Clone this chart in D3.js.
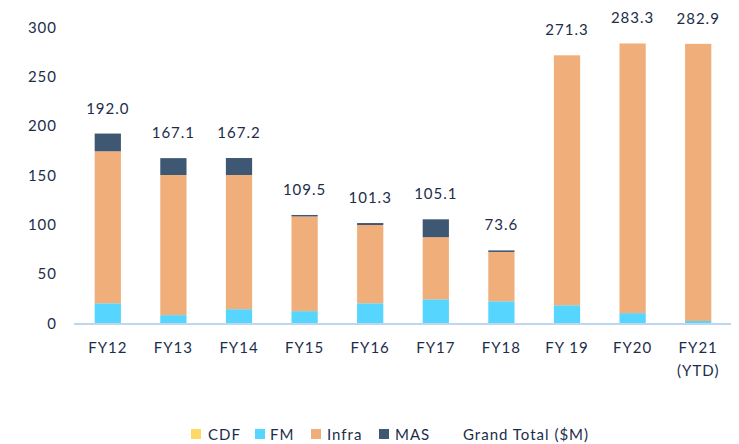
<!DOCTYPE html>
<html><head><meta charset="utf-8">
<script src="https://cdn.jsdelivr.net/npm/d3@7/dist/d3.min.js"></script>
<style>
body{margin:0;background:#fff;}
svg text{font-family:Lato,"Open Sans",sans-serif;fill:#1c2d4a;letter-spacing:1px;}
</style></head>
<body><svg id="c" width="739" height="444"></svg>
<script>
const categories = ["FY12","FY13","FY14","FY15","FY16","FY17","FY18","FY 19","FY20","FY21\n(YTD)"];
const cdf   = [0,0,0,0,0,0,0,0,0,0];
const fm    = [20,8,14,12,20,24,22,18,10,2];
const infra = [154,142,136,96,79.3,63,50,253.3,273.3,280.9];
const mas   = [18,17.1,17.2,1.5,2,18.1,1.6,0,0,0];
const totals = [192.0,167.1,167.2,109.5,101.3,105.1,73.6,271.3,283.3,282.9];
const yTicks = [0,50,100,150,200,250,300];
const seriesNames = ["CDF","FM","Infra","MAS"];
const colors = {CDF:"#ffd966",FM:"#56d5fe",Infra:"#f0ae7a",MAS:"#3e5873"};

const svg = d3.select("#c");
const x = d3.scaleBand().domain(categories).range([75,731]).paddingInner(0.6).paddingOuter(0.3);
const y = d3.scaleLinear().domain([0,300]).range([323,27]);

const rows = categories.map((c,i)=>({cat:c,CDF:cdf[i],FM:fm[i],Infra:infra[i],MAS:mas[i]}));
const stacked = d3.stack().keys(seriesNames)(rows);

svg.append("g").selectAll("g").data(stacked).join("g")
  .attr("fill",d=>colors[d.key])
  .selectAll("rect").data(d=>d).join("rect")
  .attr("x",d=>x(d.data.cat))
  .attr("width",x.bandwidth())
  .attr("y",d=>y(d[1]))
  .attr("height",d=>Math.max(0,y(d[0])-y(d[1])));

// baseline
svg.append("line").attr("x1",74).attr("x2",731).attr("y1",y(0)+1).attr("y2",y(0)+1)
  .attr("stroke","#bdd7ee").attr("stroke-width",2);

// y axis labels
svg.append("g").selectAll("text").data(yTicks).join("text")
  .attr("x",57).attr("y",d=>y(d)+5.5).attr("text-anchor","end")
  .attr("font-size",15).text(d=>d);

// x labels
const xl = svg.append("g").selectAll("text").data(categories).join("text")
  .attr("x",d=>x(d)+x.bandwidth()/2).attr("y",353).attr("text-anchor","middle").attr("font-size",15);
xl.each(function(d){
  const parts = d.split("\n");
  const t = d3.select(this);
  parts.forEach((p,i)=>t.append("tspan").attr("x",x(d)+x.bandwidth()/2).attr("dy",i?23:0).text(p));
});

// totals
svg.append("g").selectAll("text").data(categories).join("text")
  .attr("x",d=>x(d)+x.bandwidth()/2).attr("y",(d,i)=>y(totals[i])-20)
  .attr("text-anchor","middle").attr("font-size",15)
  .text((d,i)=>totals[i].toFixed(1));

// legend
const legItems = [
  {name:"CDF",sx:191,tx:208},
  {name:"FM",sx:255,tx:270},
  {name:"Infra",sx:311,tx:327},
  {name:"MAS",sx:379,tx:395},
  {name:"Grand Total ($M)",sx:null,tx:463}
];
const lg = svg.append("g");
legItems.forEach(it=>{
  if(it.sx!==null) lg.append("rect").attr("x",it.sx).attr("y",429).attr("width",10).attr("height",10).attr("fill",colors[it.name]);
  lg.append("text").attr("x",it.tx).attr("y",439.5).attr("font-size",15).text(it.name);
});
</script></body></html>
